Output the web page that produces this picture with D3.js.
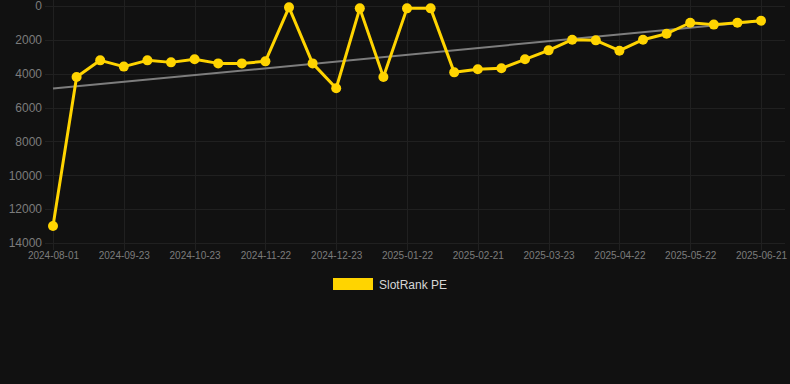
<!DOCTYPE html>
<html>
<head>
<meta charset="utf-8">
<script src="https://cdn.jsdelivr.net/npm/d3@7"></script>
<style>
  html, body { margin: 0; padding: 0; background: #111111; }
  svg { display: block; }
</style>
</head>
<body>
<svg id="chart" width="790" height="384"></svg>
<script>
// category dates (one per point)
const dates = [
  "2024-08-01", "2024-09-03", "2024-09-13", "2024-09-23", "2024-10-03", "2024-10-13",
  "2024-10-23", "2024-11-02", "2024-11-12", "2024-11-22", "2024-12-02", "2024-12-12",
  "2024-12-23", "2025-01-02", "2025-01-12", "2025-01-22", "2025-02-01", "2025-02-11",
  "2025-02-21", "2025-03-03", "2025-03-13", "2025-03-23", "2025-04-02", "2025-04-12",
  "2025-04-22", "2025-05-02", "2025-05-12", "2025-05-22", "2025-06-01", "2025-06-11",
  "2025-06-21"
];

// SlotRank PE values (lower is better, axis reversed)
const rankValues = [
  13000, 4190, 3210, 3580, 3210, 3330, 3150, 3390, 3390, 3270,
  80, 3390, 4860, 140, 4190, 140, 140, 3920, 3740, 3680,
  3150, 2620, 1990, 2030, 2640, 1990, 1640, 990, 1100, 990, 870
];

// trend line end points (first and last category)
const trendValues = [4880, 880];

const yTicks = [0, 2000, 4000, 6000, 8000, 10000, 12000, 14000];
const xTickEvery = 3;

const svg = d3.select("#chart");

const x = d3.scalePoint()
  .domain(dates)
  .range([53, 761]);

const y = d3.scaleLinear()
  .domain([0, 14000])
  .range([6, 243]);

const gridColor = "#202020";
const tickColor = "#7c7c7c";

// horizontal grid
svg.append("g")
  .selectAll("line")
  .data(yTicks)
  .enter()
  .append("line")
  .attr("x1", 45)
  .attr("x2", 785)
  .attr("y1", (d) => Math.round(y(d)) + 0.5)
  .attr("y2", (d) => Math.round(y(d)) + 0.5)
  .attr("stroke", gridColor)
  .attr("stroke-width", 1);

// vertical grid at labelled categories
const xTickDates = dates.filter((d, i) => i % xTickEvery === 0);
svg.append("g")
  .selectAll("line")
  .data(xTickDates)
  .enter()
  .append("line")
  .attr("x1", (d) => Math.round(x(d)) + 0.5)
  .attr("x2", (d) => Math.round(x(d)) + 0.5)
  .attr("y1", 0)
  .attr("y2", 250)
  .attr("stroke", gridColor)
  .attr("stroke-width", 1);

// y axis labels
const yAxis = d3.axisLeft(y)
  .tickValues(yTicks)
  .tickFormat(d3.format("d"))
  .tickSize(0)
  .tickPadding(0);
svg.append("g")
  .attr("transform", "translate(42,0)")
  .call(yAxis)
  .call((g) => g.select(".domain").remove())
  .selectAll("text")
  .attr("fill", tickColor)
  .style("font-family", "Arial, 'Liberation Sans', sans-serif")
  .style("font-size", "12px");

// x axis labels
const xAxis = d3.axisBottom(x).tickValues(xTickDates).tickSize(0).tickPadding(0);
svg.append("g")
  .attr("transform", "translate(0,252)")
  .call(xAxis)
  .call((g) => g.select(".domain").remove())
  .selectAll("text")
  .attr("fill", tickColor)
  .style("font-family", "Arial, 'Liberation Sans', sans-serif")
  .style("font-size", "10px");

// trend line
const trendDates = [dates[0], dates[dates.length - 1]];
svg.append("path")
  .datum(trendValues)
  .attr("fill", "none")
  .attr("stroke", "#7d7d7d")
  .attr("stroke-width", 2)
  .attr("d", d3.line()
    .x((d, i) => x(trendDates[i]))
    .y((d) => y(d)));

// main series line
const yellow = "#FFD400";
svg.append("path")
  .datum(rankValues)
  .attr("fill", "none")
  .attr("stroke", yellow)
  .attr("stroke-width", 3)
  .attr("stroke-linejoin", "round")
  .attr("d", d3.line()
    .x((d, i) => x(dates[i]))
    .y((d) => y(d)));

svg.append("g")
  .selectAll("circle")
  .data(rankValues)
  .enter()
  .append("circle")
  .attr("cx", (d, i) => x(dates[i]))
  .attr("cy", (d) => y(d))
  .attr("r", 5)
  .attr("fill", yellow);

// legend
const legend = svg.append("g").attr("transform", "translate(333,278)");
legend.append("rect")
  .attr("width", 40)
  .attr("height", 12)
  .attr("fill", yellow);
legend.append("text")
  .attr("x", 46)
  .attr("y", 10.5)
  .attr("fill", "#d6d6d6")
  .style("font-family", "Arial, 'Liberation Sans', sans-serif")
  .style("font-size", "12px")
  .text("SlotRank PE");
</script>
</body>
</html>
